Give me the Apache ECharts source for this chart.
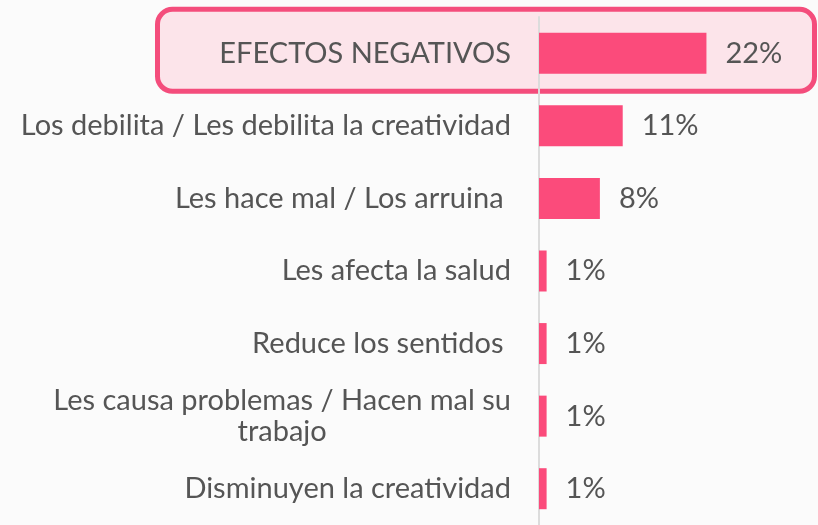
<!DOCTYPE html>
<html>
<head>
<meta charset="utf-8">
<script src="https://cdn.jsdelivr.net/npm/echarts@6/dist/echarts.min.js"></script>
<style>
  html, body { margin: 0; padding: 0; background: #fbfbfb; }
  #chart { width: 818px; height: 525px; }
</style>
</head>
<body>
<div id="chart"></div>
<script>
const categories = [
  'EFECTOS NEGATIVOS',
  'Los debilita / Les debilita la creatividad',
  'Les hace mal / Los arruina ',
  'Les afecta la salud',
  'Reduce los sentidos ',
  'Les causa problemas / Hacen mal su\ntrabajo',
  'Disminuyen la creatividad'
]
const values = [22, 11, 8, 1, 1, 1, 1]
const highlighted = 'EFECTOS NEGATIVOS'

const pink = '#fb4b7b'
const textColor = '#555555'

const chart = echarts.init(document.getElementById('chart'))

const option = {
  animation: false,
  backgroundColor: '#fbfbfb',
  grid: { left: 539, right: 5, top: 17, height: 511 },
  xAxis: {
    type: 'value',
    min: 0,
    max: 36,
    show: false
  },
  yAxis: {
    type: 'category',
    data: categories,
    inverse: true,
    axisLine: { show: true, lineStyle: { color: '#dcdcdc', width: 2 } },
    axisTick: { show: false },
    axisLabel: {
      margin: 28,
      fontFamily: 'Lato',
      fontSize: 29,
      color: textColor,
      formatter: (v) => v.split('\n').map(s => '{c|' + s + '}').join('\n'),
      rich: {
        c: { align: 'center', fontFamily: 'Lato', fontSize: 29, color: textColor, lineHeight: 31 }
      }
    }
  },
  series: [{
    type: 'bar',
    data: values,
    barWidth: 41,
    itemStyle: { color: pink },
    label: {
      show: true,
      position: 'right',
      distance: 19,
      formatter: '{c}%',
      fontFamily: 'Lato',
      fontSize: 29,
      color: textColor
    }
  }]
}

chart.setOption(option)

// highlight box around the first row
const cy = chart.convertToPixel({ yAxisIndex: 0 }, highlighted)
chart.setOption({
  graphic: [{
    type: 'rect',
    z: -10,
    shape: { x: 157.5, y: cy - 44, width: 657, height: 82, r: 15 },
    style: { fill: '#fce4ea', stroke: '#f44d7c', lineWidth: 5 }
  }]
})
</script>
</body>
</html>
